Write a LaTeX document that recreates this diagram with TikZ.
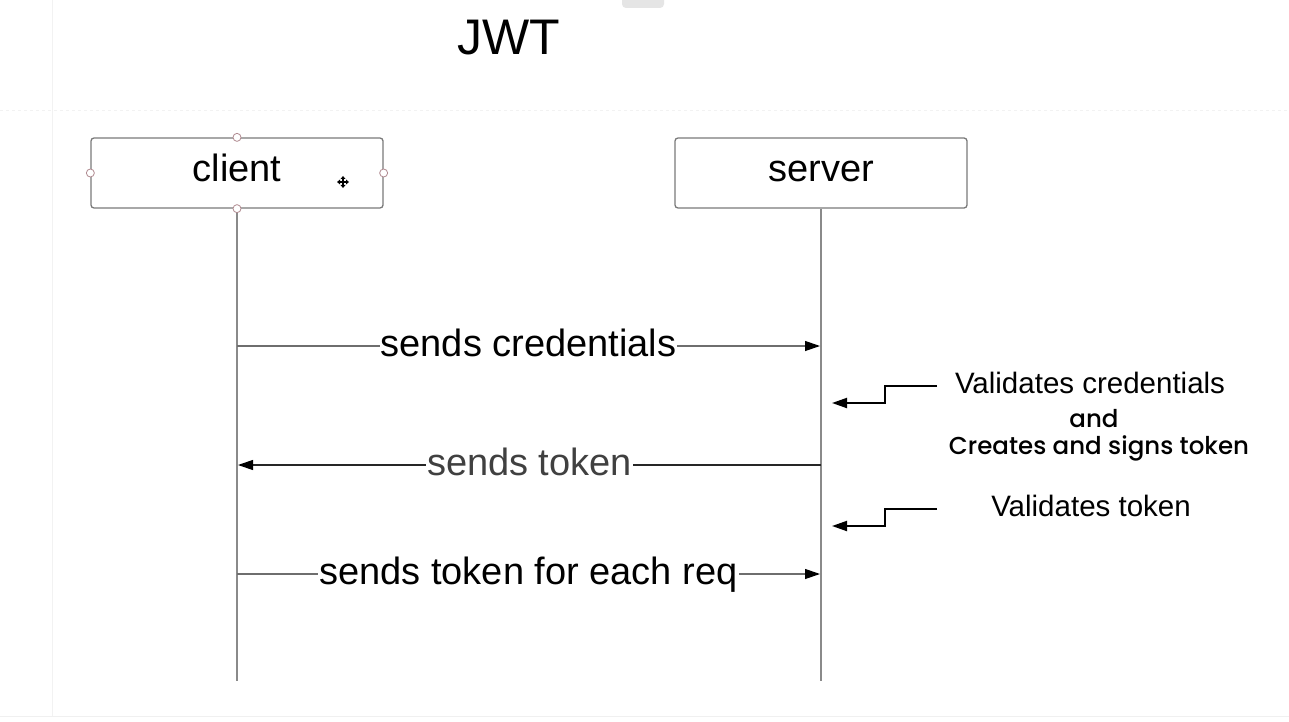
\documentclass[tikz,border=0pt]{standalone}
\usepackage{fontspec}
\setmainfont{Liberation Sans}
\newfontfamily\geofont{Poppins}[UprightFont=* Medium]
\usetikzlibrary{arrows.meta,calc}
\definecolor{boxline}{HTML}{7A7A7A}
\definecolor{lifeline}{HTML}{8A8A8A}
\definecolor{handle}{HTML}{B08A90}
\begin{document}
\begin{tikzpicture}[x=1pt,y=-1pt,
  actor/.style={draw=boxline,line width=1.3pt,rounded corners=3pt,fill=white,
    minimum width=292pt,minimum height=70pt,inner sep=0pt,
    text height=30pt,text depth=12pt,
    font=\fontsize{38}{44}\selectfont},
  life/.style={draw=lifeline,line width=1.4pt},
  msg/.style={draw=lifeline!80!black,line width=1.2pt,
    -{Triangle[length=15pt,width=10pt,color=black]}},
  msglabel/.style={fill=white,inner xsep=1pt,inner ysep=2pt,anchor=base,
    yshift=-10pt,font=\fontsize{38}{44}\selectfont},
  note/.style={line width=2pt,draw=black,
    -{Triangle[length=15pt,width=10pt]}},
  notetext/.style={font=\fontsize{29.5}{34}\selectfont,inner sep=0pt},
  geotext/.style={font=\geofont\fontsize{24.5}{30}\selectfont,inner sep=0pt},
  grip/.style={circle,draw=handle,fill=white,line width=0.8pt,minimum size=8pt,inner sep=0pt}]
\useasboundingbox (0,0) rectangle (1289,722);
\fill[white] (0,0) rectangle (1289,722);
% canvas details
\fill[black!10,rounded corners=4pt] (622,-6) rectangle (664,8);
\draw[black!6,line width=1pt] (0,716) -- (1289,716);
\draw[black!5,line width=0.8pt,dash pattern=on 3pt off 3pt] (0,110) -- (1289,110);
\draw[black!5,line width=0.8pt] (52,0) -- (52,716);

% title
\node[font=\fontsize{50}{56}\selectfont,inner sep=0pt] (title) at (509,38) {JWT};

% participants
\node[actor] (client) at (237,173) {client};
\node[actor] (server) at (821,173) {server};

% lifelines
\coordinate (cend) at (237,681);
\coordinate (send) at (821,681);
\draw[life] (client.south) -- (cend);
\draw[life] (server.south) -- (send);

% selection handles on the client box
\foreach \a in {north,south,east,west}
  \node[grip] (grip-\a) at (client.\a) {};
% move cursor
\node[inner sep=0pt] (cursor) at (343,182) {};
\draw[line width=1.3pt] ($(cursor)+(-5,0)$) -- ++(10,0);
\draw[line width=1.3pt] ($(cursor)+(0,-5)$) -- ++(0,10);
\foreach \d in {0,90,180,270}
  \fill[rotate around={\d:(cursor)}] ($(cursor)+(6,0)$) -- ++(-3,-2.5) -- ++(0,5) -- cycle;

% messages
\coordinate (m1a) at (237,346); \coordinate (m1b) at (820,346);
\coordinate (m2a) at (821,465); \coordinate (m2b) at (238,465);
\coordinate (m3a) at (237,574); \coordinate (m3b) at (820,574);
\draw[msg] (m1a) -- node[msglabel] (l1) {sends credentials} (m1b);
\draw[msg,draw=black!85] (m2a) -- node[msglabel,text=black!75] (l2) {sends token} (m2b);
\draw[msg] (m3a) -- node[msglabel] (l3) {sends token for each req} (m3b);

% server-side notes
\coordinate (n1s) at (937,386); \coordinate (n1e) at (832,403);
\coordinate (n2s) at (937,509); \coordinate (n2e) at (832,526);
\draw[note] (n1s) -- (885,386) -- (885,403) -- (n1e);
\draw[note] (n2s) -- (885,509) -- (885,526) -- (n2e);
\node[notetext] (t1) at (1090,383) {Validates credentials};
\node[geotext] (t2) at (1094,419) {and};
\node[geotext] (t3) at (1099,448) {Creates and signs token};
\node[notetext] (t4) at (1091,506) {Validates token};
\end{tikzpicture}
\end{document}
